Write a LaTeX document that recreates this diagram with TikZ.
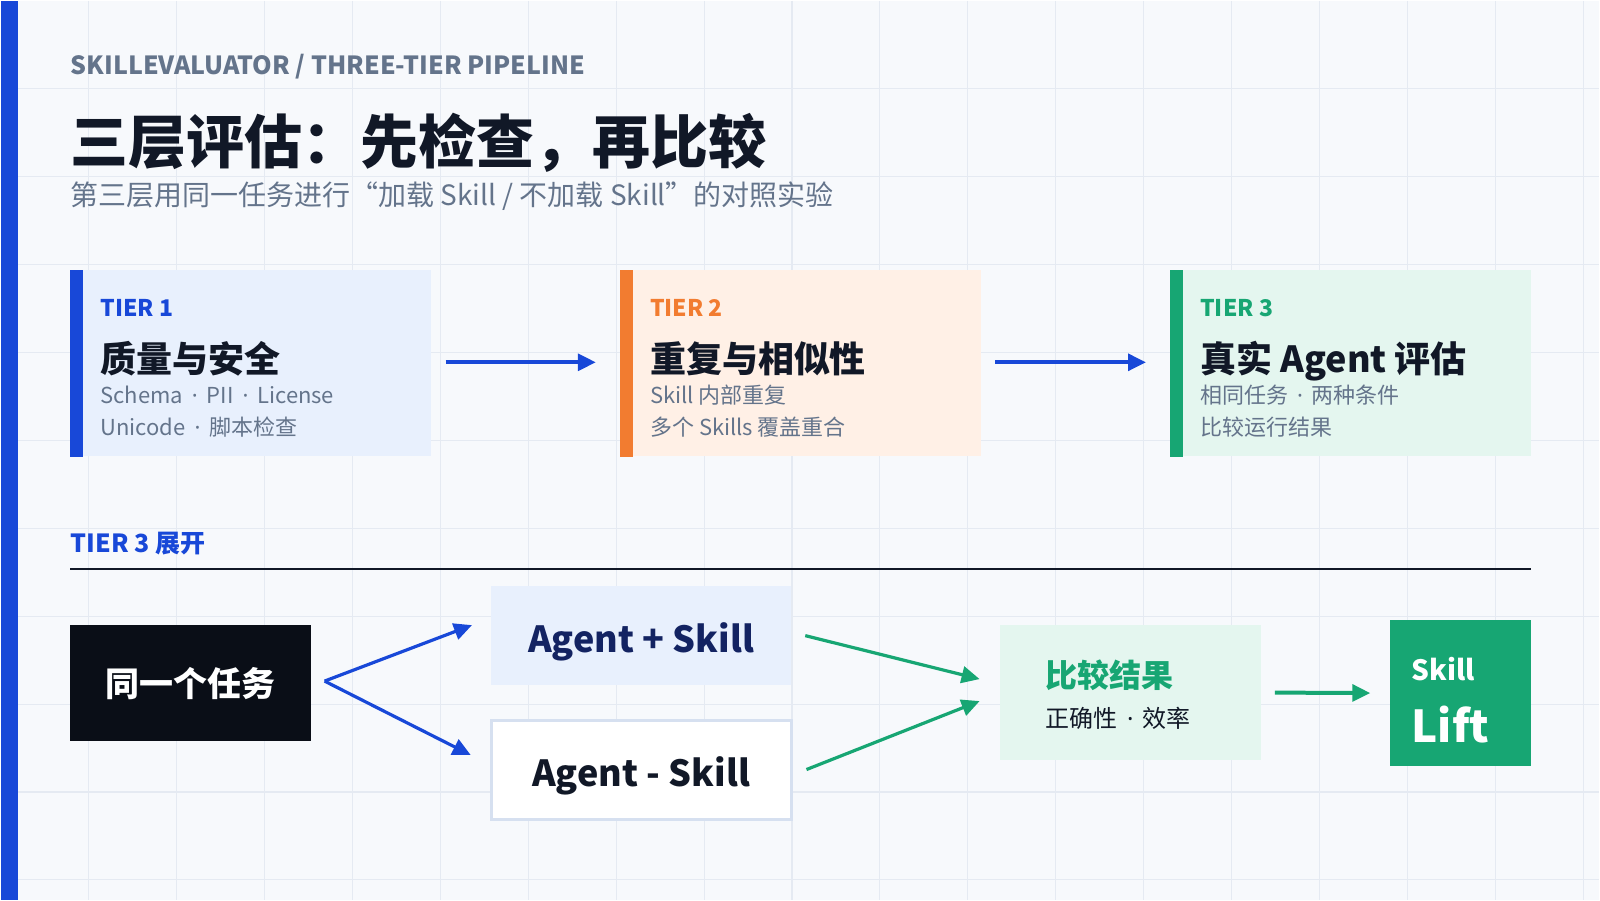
\documentclass[tikz,border=0pt]{standalone}
\usepackage{fontspec}
\setmainfont{Noto Sans CJK SC}
\newfontfamily\dotfont{Noto Sans}
\usetikzlibrary{arrows.meta,calc}
\definecolor{bluebar}{RGB}{24,72,216}
\definecolor{ink}{RGB}{17,24,39}
\definecolor{slate}{RGB}{100,116,139}
\definecolor{paper}{RGB}{247,249,252}
\definecolor{gridc}{RGB}{229,234,242}
\definecolor{blueb}{RGB}{232,240,253}
\definecolor{orng}{RGB}{242,124,48}
\definecolor{orngb}{RGB}{255,240,230}
\definecolor{grn}{RGB}{23,166,115}
\definecolor{grnb}{RGB}{228,246,239}
\definecolor{navy}{RGB}{19,35,98}
\definecolor{night}{RGB}{10,14,23}
\definecolor{edgec}{RGB}{214,224,240}
\newcommand\pxsize[1]{\fontsize{\fpeval{0.75*#1}pt}{\fpeval{0.9*#1}pt}\selectfont}
\newcommand\mdot{{\hspace{3pt}\dotfont ·\hspace{3pt}}}
\newcommand\cjkopenq{\makebox[1em][r]{“}}
\newcommand\cjkcloseq{\makebox[1em][l]{”}}
\tikzstyle{txt} = [inner sep=0pt, anchor=base west]
\tikzstyle{tier} = [inner sep=0pt, minimum width=270.75pt, minimum height=139.5pt]
\tikzstyle{tag} = [txt, font=\pxsize{23}\bfseries]
\tikzstyle{head} = [txt, text=ink, font=\pxsize{36}\bfseries]
\tikzstyle{note} = [txt, text=slate, font=\pxsize{22}]
\tikzstyle{box} = [inner sep=0pt, minimum width=225pt, minimum height=74.25pt,
	font=\pxsize{36}\bfseries, text height=28.35pt, text depth=2.7pt]
\tikzstyle{bigarrow} = [line width=3pt, -{Triangle[length=13.5pt,width=12.5pt]}]
\tikzstyle{thinarrow} = [line width=2.4pt, -{Triangle[length=13.5pt,width=12.5pt]}]

\begin{document}
\begin{tikzpicture}[x=0.75pt,y=-0.75pt]
\fill[paper] (0,0) rectangle (1600,900);
\foreach \i in {1,...,18}
	\draw[gridc, line width=0.8pt] (\i*88,0) -- (\i*88,900);
\foreach \j in {1,...,10}
	\draw[gridc, line width=0.8pt] (0,\j*88) -- (1600,\j*88);
\fill[bluebar] (0,0) rectangle (17,900);

\node[txt, text=slate, font=\pxsize{25}\bfseries] (kicker) at (70,74) {SKILLEVALUATOR / THREE-TIER PIPELINE};
\node[txt, text=ink, font=\pxsize{58}\bfseries] (title) at (70,163) {三层评估：先检查，再比较};
\node[txt, text=slate, font=\pxsize{28}] (sub) at (70,205) {第三层用同一任务进行\cjkopenq 加载 Skill / 不加载 Skill\cjkcloseq 的对照实验};

\node[tier, fill=blueb] (t1) at (250.5,363) {};
\node[tier, fill=orngb] (t2) at (800.5,363) {};
\node[tier, fill=grnb] (t3) at (1351,363) {};
\fill[bluebar] (t1.north west) rectangle ($(t1.south west)+(13,0)$);
\fill[orng] (t2.north west) rectangle ($(t2.south west)+(13,0)$);
\fill[grn] (t3.north west) rectangle ($(t3.south west)+(13,0)$);

\node[tag, text=bluebar] (t1tag) at ($(t1.north west)+(30,46)$) {TIER 1};
\node[head] (t1head) at ($(t1.north west)+(30,102)$) {质量与安全};
\node[note] (t1a) at ($(t1.north west)+(30,133)$) {Schema \mdot{} PII \mdot{} License};
\node[note] (t1b) at ($(t1.north west)+(30,166)$) {Unicode \mdot{} 脚本检查};

\node[tag, text=orng] (t2tag) at ($(t2.north west)+(30,46)$) {TIER 2};
\node[head] (t2head) at ($(t2.north west)+(30,102)$) {重复与相似性};
\node[note] (t2a) at ($(t2.north west)+(30,133)$) {Skill 内部重复};
\node[note] (t2b) at ($(t2.north west)+(30,166)$) {多个 Skills 覆盖重合};

\node[tag, text=grn] (t3tag) at ($(t3.north west)+(30,46)$) {TIER 3};
\node[head] (t3head) at ($(t3.north west)+(30,102)$) {真实 Agent 评估};
\node[note] (t3a) at ($(t3.north west)+(30,133)$) {相同任务 \mdot{} 两种条件};
\node[note] (t3b) at ($(t3.north west)+(30,166)$) {比较运行结果};

\draw[bigarrow, bluebar] ($(t1.east)+(14,-1)$) -- ($(t2.west)+(-24,-1)$);
\draw[bigarrow, bluebar] ($(t2.east)+(14,-1)$) -- ($(t3.west)+(-24,-1)$);

\node[txt, text=bluebar, font=\pxsize{25}\bfseries] (expand) at (70,552) {TIER 3 展开};
\draw[ink, line width=1.5pt] (70,569) -- (1531,569);

\node[inner sep=0pt, minimum width=180.75pt, minimum height=87pt, fill=night,
	text=white, font=\pxsize{34}\bfseries] (task) at (190.5,683) {同一个任务};
\node[box, fill=blueb, text=navy] (plus) at (641,635.5) {Agent + Skill};
\node[box, fill=white, draw=edgec, line width=2.25pt, text=ink] (minus) at (641,769.5) {Agent - Skill};
\node[inner sep=0pt, minimum width=195.75pt, minimum height=101.25pt, fill=grnb] (cmp) at (1130.5,692.5) {};
\node[txt, anchor=west, text=grn, font=\pxsize{32}\bfseries] (cmphead) at ($(cmp.west)+(46,-17)$) {比较结果};
\node[txt, anchor=west, text=ink, font=\pxsize{24}] (cmpnote) at ($(cmp.west)+(46,26)$) {正确性 \mdot{} 效率};
\node[inner sep=0pt, minimum width=105.75pt, minimum height=109.5pt, fill=grn] (lift) at (1460.5,693) {};
\node[txt, text=white, font=\pxsize{28}\bfseries] (liftsmall) at ($(lift.west)+(22,-13)$) {Skill};
\node[txt, text=white, font=\pxsize{44}\bfseries] (liftbig) at ($(lift.west)+(22,49)$) {Lift};

\coordinate (fork) at ($(task.east)+(13,-2)$);
\coordinate (uptip) at ($(plus.west)+(-19,-10.5)$);
\coordinate (downtip) at ($(minus.west)+(-19,-14.5)$);
\coordinate (cmpup) at ($(cmp.west)+(-20,-13.5)$);
\coordinate (cmpdown) at ($(cmp.west)+(-20,8.5)$);
\draw[thinarrow, bluebar] (fork) -- (uptip);
\draw[thinarrow, bluebar] (fork) -- (downtip);
\draw[thinarrow, grn] ($(plus.east)+(14,0)$) -- (cmpup);
\draw[thinarrow, grn] ($(minus.east)+(14,0)$) -- (cmpdown);
\draw[bigarrow, grn] ($(cmp.east)+(14,0)$) -- ($(lift.west)+(-19,0)$);
\end{tikzpicture}
\end{document}
